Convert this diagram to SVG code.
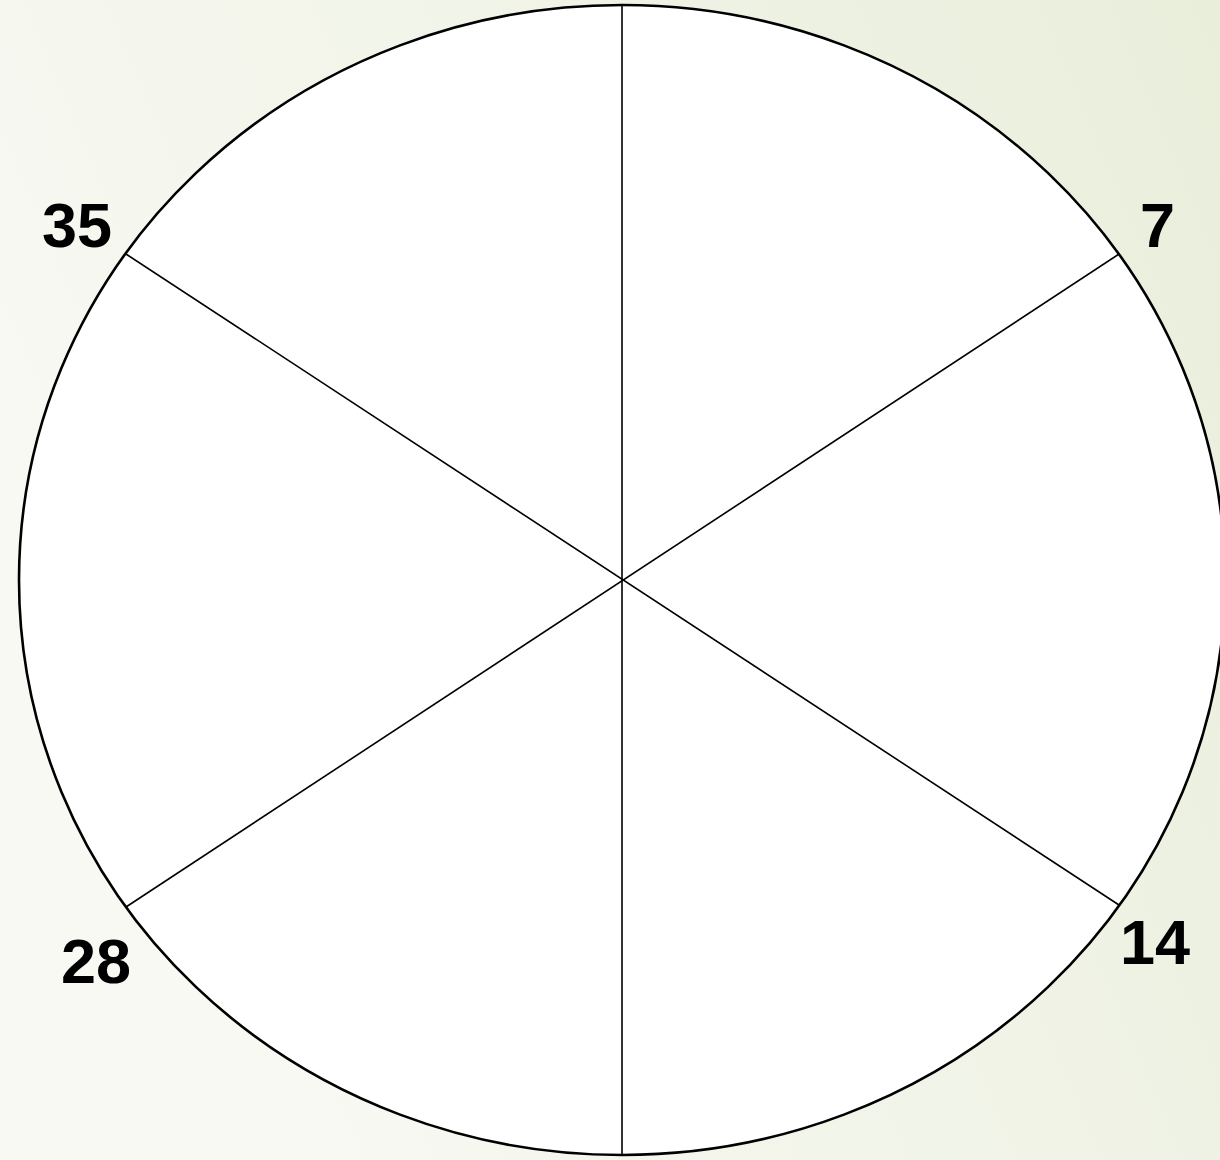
<svg xmlns="http://www.w3.org/2000/svg" width="1220" height="1160" viewBox="0 0 1220 1160">
<defs>
<linearGradient id="bg" x1="0" y1="0.4" x2="1" y2="0">
<stop offset="0" stop-color="#f8f9f3"/>
<stop offset="1" stop-color="#e9eedb"/>
</linearGradient>
<style>
.lbl{font-family:"Liberation Sans",Arial,sans-serif;font-weight:bold;font-size:63px;fill:#000}
.spoke{stroke:#000;stroke-width:1.6;fill:none}
</style>
</defs>
<rect width="1220" height="1160" fill="url(#bg)"/>
<g id="wheel">
<ellipse cx="622" cy="580" rx="603" ry="575" fill="#fff" stroke="#000" stroke-width="2.6"/>
</g>
<g id="connectors">
<line class="spoke" x1="622" y1="5" x2="622" y2="1156"/>
<line class="spoke" x1="126" y1="254" x2="1119" y2="905"/>
<line class="spoke" x1="1119" y1="254" x2="126" y2="907"/>
</g>
<g id="label-35"><text class="lbl" x="42" y="247">35</text></g>
<g id="label-7"><text class="lbl" x="1140" y="247">7</text></g>
<g id="label-28"><text class="lbl" x="61" y="983">28</text></g>
<g id="label-14"><text class="lbl" x="1120" y="964">14</text></g>
</svg>
